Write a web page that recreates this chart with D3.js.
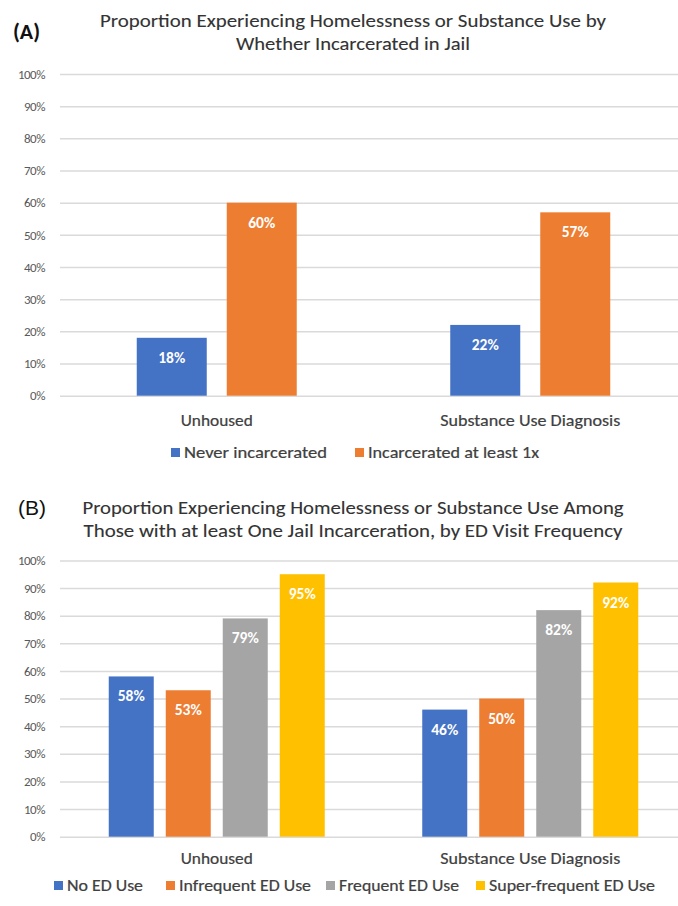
<!DOCTYPE html>
<html>
<head>
<meta charset="utf-8">
<script src="https://cdn.jsdelivr.net/npm/d3@7"></script>
<style>
  html, body { margin: 0; padding: 0; background: #fff; }
  svg { display: block; }
  text { font-family: Calibri, Carlito, "Open Sans", sans-serif; }
</style>
</head>
<body>
<svg id="chart" width="678" height="906"></svg>
<script>
/* DATA */
const categories = ["Unhoused", "Substance Use Diagnosis"];
const yTicks = [0, 0.1, 0.2, 0.3, 0.4, 0.5, 0.6, 0.7, 0.8, 0.9, 1];

// panel A
const seriesA = ["Never incarcerated", "Incarcerated at least 1x"];
const valuesA = [
  [0.18, 0.22], // never incarcerated
  [0.60, 0.57]  // incarcerated at least 1x
];
const titleA = ["Proportion Experiencing Homelessness or Substance Use by",
  "Whether Incarcerated in Jail"];

// panel B
const seriesB = ["No ED Use", "Infrequent ED Use", "Frequent ED Use", "Super-frequent ED Use"];
const valuesB = [
  [0.58, 0.46],
  [0.53, 0.50],
  [0.79, 0.82],
  [0.95, 0.92]
];
const titleB = ["Proportion Experiencing Homelessness or Substance Use Among",
  "Those with at least One Jail Incarceration, by ED Visit Frequency"];

const colors = ["#4472C4", "#ED7D31", "#A5A5A5", "#FFC000"];

/* LAYOUT */
const svg = d3.select("#chart");
const plotLeft = 60, plotRight = 687, gridRight = 678;

// one panel = title + gridlines + grouped bars + legend
function drawPanel(opt) {
  const g = svg.append("g");

  // panel letter
  g.append("text")
    .attr("x", opt.letterX).attr("y", opt.letterY)
    .attr("font-size", opt.letterSize)
    .attr("font-weight", opt.letterBold ? "bold" : "normal")
    .style("font-family", opt.letterBold ? null : "'Liberation Sans', Arial, sans-serif")
    .attr("fill", "#111")
    .text(opt.letter);

  // title
  g.selectAll(".title")
    .data(opt.title)
    .join("text")
    .attr("class", "title")
    .attr("x", 353)
    .attr("y", (d, i) => opt.titleY + i * 23)
    .attr("text-anchor", "middle")
    .attr("font-size", 18.5)
    .attr("fill", "#333")
    .attr("stroke", "#333").attr("stroke-width", 0.1)
    .attr("textLength", (d, i) => opt.titleW[i])
    .attr("lengthAdjust", "spacingAndGlyphs")
    .text(d => d);

  const y = d3.scaleLinear().domain([0, 1]).range([opt.y0, opt.y100]);
  const x = d3.scaleBand().domain(categories).range([plotLeft, plotRight]);

  const n = opt.series.length;
  const groupW = n * opt.barW + (n - 1) * opt.gap;
  const xInner = d3.scaleBand()
    .domain(d3.range(n))
    .range([(x.bandwidth() - groupW) / 2, (x.bandwidth() + groupW) / 2])
    .paddingInner(opt.gap / (opt.barW + opt.gap));

  // gridlines + tick labels
  const axis = g.append("g")
    .attr("transform", `translate(${plotLeft},0)`)
    .call(d3.axisLeft(y).tickValues(yTicks).tickFormat(d3.format(".0%"))
      .tickSize(-(gridRight - plotLeft)).tickPadding(15));
  axis.select(".domain").remove();
  axis.selectAll(".tick line").attr("stroke", "#dadada").attr("stroke-width", 1.5);
  axis.selectAll(".tick text")
    .attr("fill", "#595959")
    .attr("font-size", 13)
    .attr("letter-spacing", -0.5)
    .style("font-family", "Calibri, Carlito, 'Open Sans', sans-serif");

  // bars
  const rows = [];
  opt.values.forEach((vals, s) => vals.forEach((v, c) => rows.push({ s, c, v })));

  g.selectAll(".bar")
    .data(rows)
    .join("rect")
    .attr("class", "bar")
    .attr("x", d => x(categories[d.c]) + xInner(d.s))
    .attr("width", xInner.bandwidth())
    .attr("y", d => y(d.v))
    .attr("height", d => y(0) - y(d.v))
    .attr("fill", d => colors[d.s]);

  g.selectAll(".val")
    .data(rows)
    .join("text")
    .attr("class", "val")
    .attr("x", d => x(categories[d.c]) + xInner(d.s) + xInner.bandwidth() / 2)
    .attr("y", d => y(d.v) + 25)
    .attr("text-anchor", "middle")
    .attr("font-size", 15.5)
    .attr("font-weight", "bold")
    .attr("fill", "#fff")
    .text(d => d3.format(".0%")(d.v));

  // category labels
  g.selectAll(".cat")
    .data(categories)
    .join("text")
    .attr("class", "cat")
    .attr("x", d => x(d) + x.bandwidth() / 2)
    .attr("y", opt.catY)
    .attr("text-anchor", "middle")
    .attr("font-size", 15.5)
    .attr("fill", "#404040")
    .attr("stroke", "#404040").attr("stroke-width", 0.2)
    .attr("textLength", (d, i) => opt.catW[i])
    .attr("lengthAdjust", "spacingAndGlyphs")
    .text(d => d);

  // legend
  const leg = g.selectAll(".leg")
    .data(opt.series)
    .join("g")
    .attr("class", "leg")
    .attr("transform", (d, i) => `translate(${opt.legX[i]},${opt.legY})`);
  leg.append("rect")
    .attr("x", 0).attr("y", -5)
    .attr("width", 9).attr("height", 9)
    .attr("fill", (d, i) => colors[i]);
  leg.append("text")
    .attr("x", 13).attr("y", 5)
    .attr("font-size", 15.5)
    .attr("fill", "#404040")
    .attr("stroke", "#404040").attr("stroke-width", 0.2)
    .attr("textLength", (d, i) => opt.legW[i])
    .attr("lengthAdjust", "spacingAndGlyphs")
    .text(d => d);
}

drawPanel({
  letter: "(A)", letterX: 13, letterY: 39, letterBold: true, letterSize: 22,
  title: titleA, titleY: 27, titleW: [506, 234],
  series: seriesA, values: valuesA,
  y0: 395.7, y100: 74,
  barW: 70, gap: 20,
  catY: 426, catW: [72, 180],
  legY: 453, legX: [171, 355], legW: [143, 171]
});

drawPanel({
  letter: "(B)", letterX: 18, letterY: 515, letterBold: false, letterSize: 21,
  title: titleB, titleY: 514, titleW: [541, 539],
  series: seriesB, values: valuesB,
  y0: 836.7, y100: 560.4,
  barW: 45, gap: 12,
  catY: 864, catW: [72, 180],
  legY: 886, legX: [54, 166, 326, 476], legW: [76, 132, 120, 166]
});
</script>
</body>
</html>
